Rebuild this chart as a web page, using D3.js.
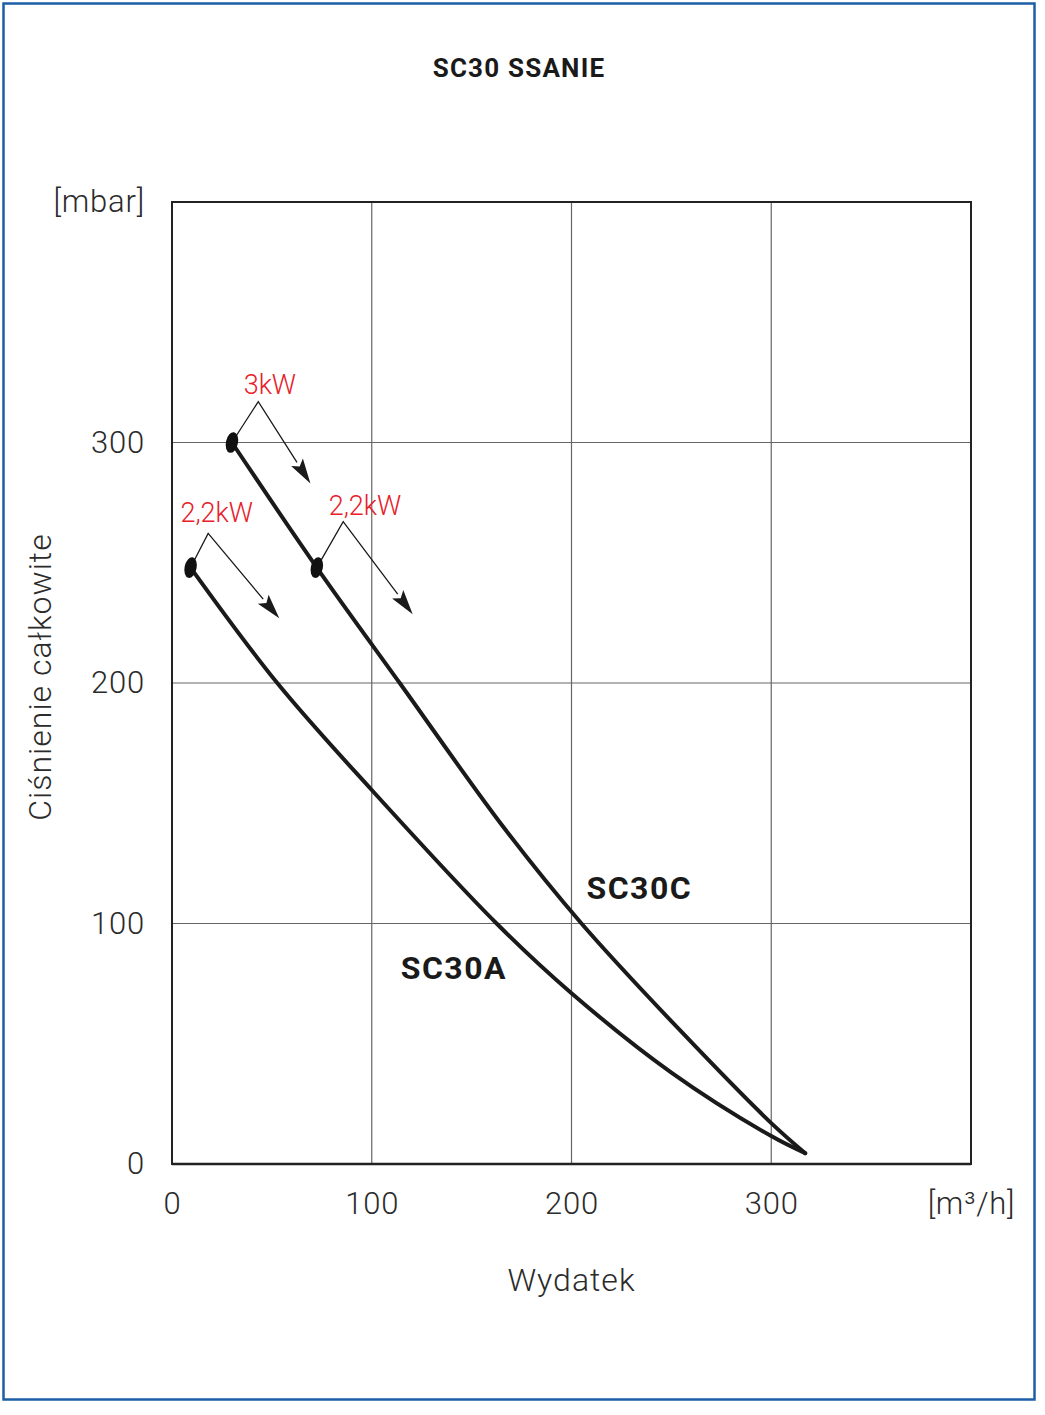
<!DOCTYPE html>
<html>
<head>
<meta charset="utf-8">
<script src="https://cdn.jsdelivr.net/npm/d3@7"></script>
<style>
  body { margin: 0; background: #fff; }
  text { font-family: Roboto, "Open Sans", sans-serif; }
</style>
</head>
<body>
<div id="chart"></div>
<script>
// ---- data ----
var xTicks = [0, 100, 200, 300, 400];
var yTicks = [0, 100, 200, 300, 400];
var xTickLabels = ["0", "100", "200", "300", "[m\u00b3/h]"];
var yTickLabels = ["0", "100", "200", "300", "[mbar]"];

// flow [m3/h], pressure [mbar]
var sc30cFlow = [30, 72.5, 114, 166, 205, 255, 300, 317];
var sc30cPres = [300, 248, 200, 140, 100, 55, 17, 4.5];
var sc30aFlow = [9.3, 52.7, 100, 162.5, 200, 250, 300, 317];
var sc30aPres = [248, 200, 155.5, 100, 71, 38, 11.6, 4.5];

// power markers and their annotations (data units)
var motorLabels = ["3kW", "2,2kW", "2,2kW"];
var motorPoint = [[30, 300], [9.3, 248], [72.5, 248]];
var motorApex = [[43.2, 317], [18.1, 262.2], [85.7, 267.1]];
var motorTip = [[69.3, 283], [53.7, 226.9], [120.5, 228.6]];
var motorText = [[49, 320], [22.4, 267], [96.6, 270]];

var seriesNames = ["SC30C", "SC30A"];
var seriesLabelPos = [[207.5, 110], [114.5, 77]];

// ---- layout ----
var W = 1045, H = 1415;
var margin = {top: 202, right: 74, bottom: 251, left: 172};
var width = W - margin.left - margin.right,
    height = H - margin.top - margin.bottom;

var svg = d3.select("#chart").append("svg")
    .attr("width", W)
    .attr("height", H);

// blue outer frame
svg.append("rect")
    .attr("x", 3.5).attr("y", 3.5)
    .attr("width", 1031).attr("height", 1396)
    .attr("fill", "none")
    .attr("stroke", "#1d5fa6")
    .attr("stroke-width", 2.5);

// title
svg.append("text")
    .attr("x", 519).attr("y", 77)
    .attr("text-anchor", "middle")
    .style("font-size", "26px")
    .style("font-weight", "700")
    .style("letter-spacing", "1.2px")
    .attr("fill", "#1a1a1a")
    .text("SC30 SSANIE");

var g = svg.append("g")
    .attr("transform", "translate(" + margin.left + "," + margin.top + ")");

var xScale = d3.scaleLinear().domain([0, 400]).range([0, width]);
var yScale = d3.scaleLinear().domain([0, 400]).range([height, 0]);

// grid
g.append("g").selectAll("line")
    .data(xTicks.slice(1, -1))
    .enter().append("line")
    .attr("x1", function(d) { return xScale(d); })
    .attr("x2", function(d) { return xScale(d); })
    .attr("y1", 0).attr("y2", height)
    .attr("stroke", "#666").attr("stroke-width", 1.2);

g.append("g").selectAll("line")
    .data(yTicks.slice(1, -1))
    .enter().append("line")
    .attr("y1", function(d) { return yScale(d); })
    .attr("y2", function(d) { return yScale(d); })
    .attr("x1", 0).attr("x2", width)
    .attr("stroke", "#666").attr("stroke-width", 1.2);

// frame
g.append("rect")
    .attr("width", width).attr("height", height)
    .attr("fill", "none")
    .attr("stroke", "#222")
    .attr("stroke-width", 2);
g.append("line")
    .attr("x1", 0).attr("x2", width)
    .attr("y1", height).attr("y2", height)
    .attr("stroke", "#222").attr("stroke-width", 2.6);

// axes (labels only)
var xAxis = d3.axisBottom(xScale)
    .tickValues(xTicks)
    .tickSize(0)
    .tickPadding(39)
    .tickFormat(function(d, i) { return xTickLabels[i]; });
var yAxis = d3.axisLeft(yScale)
    .tickValues(yTicks)
    .tickSize(0)
    .tickPadding(27)
    .tickFormat(function(d, i) { return yTickLabels[i]; });

var gx = g.append("g")
    .attr("transform", "translate(0," + height + ")")
    .call(xAxis);
var gy = g.append("g").call(yAxis);

[gx, gy].forEach(function(a) {
    a.select(".domain").remove();
    a.selectAll("text")
        .style("font-family", "Roboto, sans-serif")
        .style("font-size", "31px")
        .style("font-weight", "300")
        .style("letter-spacing", "0.8px")
        .attr("fill", "#2b2b2b");
});
gx.selectAll("text").attr("dy", "0.35em").attr("y", 39);

// axis titles
svg.append("text")
    .attr("text-anchor", "middle")
    .attr("transform", "translate(51,677)rotate(-90)")
    .style("font-size", "32px")
    .style("font-weight", "300")
    .style("letter-spacing", "1px")
    .attr("fill", "#2b2b2b")
    .text("Ciśnienie całkowite");

svg.append("text")
    .attr("text-anchor", "middle")
    .attr("x", margin.left + xScale(200))
    .attr("y", 1291)
    .style("font-size", "32px")
    .style("font-weight", "300")
    .style("letter-spacing", "1px")
    .attr("fill", "#2b2b2b")
    .text("Wydatek");

// curves
var line = d3.line()
    .x(function(d) { return xScale(d[0]); })
    .y(function(d) { return yScale(d[1]); })
    .curve(d3.curveCatmullRom.alpha(0.5));

var curves = [
    d3.zip(sc30cFlow, sc30cPres),
    d3.zip(sc30aFlow, sc30aPres)
];

g.selectAll(".curve")
    .data(curves)
    .enter().append("path")
    .attr("class", "curve")
    .attr("d", line)
    .attr("fill", "none")
    .attr("stroke", "#1a1a1a")
    .attr("stroke-width", 4)
    .attr("stroke-linecap", "round");

// series labels
g.selectAll(".slabel")
    .data(seriesNames)
    .enter().append("text")
    .attr("class", "slabel")
    .attr("x", function(d, i) { return xScale(seriesLabelPos[i][0]); })
    .attr("y", function(d, i) { return yScale(seriesLabelPos[i][1]); })
    .style("font-size", "32px")
    .style("font-weight", "700")
    .style("letter-spacing", "1.5px")
    .attr("fill", "#1a1a1a")
    .text(function(d) { return d; });

// motor annotations
motorLabels.forEach(function(lbl, i) {
    var p = motorPoint[i], a = motorApex[i], t = motorTip[i];
    var px = xScale(p[0]), py = yScale(p[1]);
    var ax = xScale(a[0]), ay = yScale(a[1]);
    var tx = xScale(t[0]), ty = yScale(t[1]);

    // arrowhead geometry
    var dx = tx - ax, dy = ty - ay, len = Math.sqrt(dx * dx + dy * dy);
    var ux = dx / len, uy = dy / len;
    var hl = 25, hw = 7;
    var bx = tx - ux * hl, by = ty - uy * hl;

    g.append("path")
        .attr("d", "M" + px + "," + py + "L" + ax + "," + ay + "L" + bx + "," + by)
        .attr("fill", "none")
        .attr("stroke", "#1a1a1a")
        .attr("stroke-width", 1.3);

    g.append("path")
        .attr("d", "M" + tx + "," + ty +
                   "L" + (bx - uy * hw) + "," + (by + ux * hw) +
                   "L" + (bx + ux * 5) + "," + (by + uy * 5) +
                   "L" + (bx + uy * hw) + "," + (by - ux * hw) + "Z")
        .attr("fill", "#1a1a1a");

    g.append("ellipse")
        .attr("cx", px).attr("cy", py)
        .attr("rx", 6).attr("ry", 10.5)
        .attr("transform", "rotate(12," + px + "," + py + ")")
        .attr("fill", "#111");

    g.append("text")
        .attr("x", xScale(motorText[i][0]))
        .attr("y", yScale(motorText[i][1]))
        .attr("text-anchor", "middle")
        .style("font-size", "27px")
        .style("font-weight", "300")
        .attr("fill", "#e8202a")
        .text(lbl);
});
</script>
</body>
</html>
